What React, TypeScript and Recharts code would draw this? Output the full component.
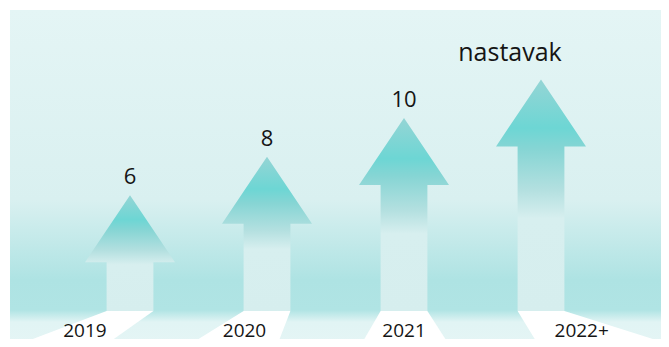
import React from "react";
import { Bar, BarChart, LabelList, XAxis, YAxis } from "recharts";

const years = ["2019", "2020", "2021", "2022+"];
const counts = [6, 8, 10, 12];
const countLabels = ["6", "8", "10", "nastavak"];

const data = years.map((year, i) => ({ year, count: counts[i], label: countLabels[i] }));

const FONT = "'Open Sans', sans-serif";
const FLOOR_DEPTH = 36;
const HEAD_HEIGHT = 67;

// the white "floor" under each arrow leans away from the middle of the chart
const shadowShift = (cx: number) => {
  const u = cx - 400;
  return 0.27 * u + 0.0015 * Math.max(u, 0) ** 2;
};
const shadowSpread = (cx: number) => 22 + 0.0012 * Math.max(cx - 400, 0) ** 2;

const Arrow = (props: any) => {
  const { x, y, width, height } = props;
  const cx = x + width / 2;
  const half = width * 0.26;
  const base = y + height;
  const headY = y + HEAD_HEIGHT;
  const shift = shadowShift(cx);
  const spread = shadowSpread(cx);
  const arrow = `${cx},${y} ${x + width},${headY} ${cx + half},${headY} ${cx + half},${base} ${cx - half},${base} ${cx - half},${headY} ${x},${headY}`;
  const floor = `${cx - half},${base} ${cx + half},${base} ${cx + shift + half + spread},${base + FLOOR_DEPTH} ${cx + shift - half - spread},${base + FLOOR_DEPTH}`;
  return (
    <g>
      <polygon points={floor} fill="#ffffff" />
      <polygon points={arrow} fill="url(#arrowFill)" />
    </g>
  );
};

const TopLabel = (props: any) => {
  const { x, y, width, value } = props;
  const isNumber = /^\d+$/.test(String(value));
  return (
    <text
      x={x + width / 2 + (isNumber ? 0 : -31)}
      y={y - (isNumber ? 11 : 18)}
      textAnchor="middle"
      fontFamily={FONT}
      fontSize={isNumber ? 22 : 25}
      fill="#151515"
    >
      {value}
    </text>
  );
};

const YearTick = (props: any) => {
  const { x, y, payload } = props;
  const lean = shadowShift(x) * 0.61;
  return (
    <text x={x + lean} y={y + 26} textAnchor="middle" fontFamily={FONT} fontSize={19} fill="#151515">
      {payload.value}
    </text>
  );
};

export default function App() {
  return (
    <div style={{ position: "relative", width: 669, height: 347, margin: -8, overflow: "hidden" }}>
      <div
        style={{
          position: "absolute",
          left: 10,
          top: 10,
          right: 0,
          bottom: 0,
          background:
            "linear-gradient(to bottom, #e4f5f5 0px, #d9f0f0 190px, #aee3e3 270px, #b0e4e4 300px, #e1f4f4 312px, #e5f5f5 337px)"
        }}
      />
      <div style={{ position: "absolute", left: 0, top: 0 }}>
        <BarChart
          width={669}
          height={347}
          data={data}
          margin={{ top: 10, right: 60, bottom: 0, left: 61 }}
        >
          <defs>
            <linearGradient id="arrowFill" x1="0" y1="0" x2="0" y2="1">
              <stop offset="0" stopColor="#95d5d5" />
              <stop offset="0.21" stopColor="#6dd6d4" />
              <stop offset="0.3" stopColor="#86d5d4" />
              <stop offset="0.48" stopColor="#b4e0e0" />
              <stop offset="0.6" stopColor="#d7efef" />
              <stop offset="1" stopColor="#d6eeee" />
            </linearGradient>
          </defs>
          <XAxis
            dataKey="year"
            height={36}
            axisLine={false}
            tickLine={false}
            tickSize={0}
            tickMargin={0}
            interval={0}
            tick={<YearTick />}
          />
          <YAxis hide domain={[0, 15.6]} />
          <Bar dataKey="count" barSize={90} shape={<Arrow />} isAnimationActive={false}>
            <LabelList dataKey="label" content={<TopLabel />} />
          </Bar>
        </BarChart>
      </div>
    </div>
  );
}
